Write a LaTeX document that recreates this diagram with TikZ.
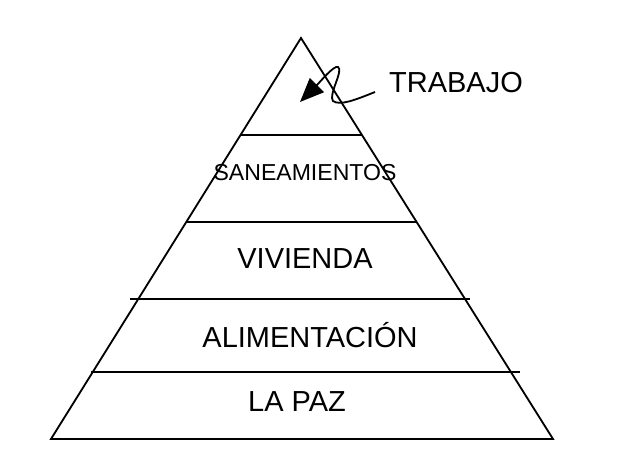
\documentclass[tikz,border=0pt]{standalone}
\usepackage{fontspec}
\setmainfont{Liberation Sans}
\usetikzlibrary{arrows.meta}
\tikzset{
    level/.style={black,line width=1.3pt},
    floor/.style={font=\fontsize{20.6}{24}\selectfont,inner sep=0pt},
    smallfloor/.style={font=\fontsize{16.4}{20}\selectfont,inner sep=0pt},
    squiggle/.style={black,line width=1.3pt,-{Triangle[length=17pt,width=14pt]}}
}
\begin{document}
\begin{tikzpicture}[x=0.025cm,y=0.025cm]
\useasboundingbox(0,0)rectangle(640,-474);
% piramide
\draw[level](301,-38)--(553,-439)--(51,-439)--cycle;
\draw[level](241,-135)--(362,-135);
\draw[level](186,-222)--(417,-222);
\draw[level](130,-299)--(470,-299);
\draw[level](91,-372)--(520,-372);
% niveles
\node[smallfloor](sane) at(305,-173){SANEAMIENTOS};
\node[floor](vivienda) at(305,-259){VIVIENDA};
\node[floor](alim) at(310,-335){ALIMENTACIÓN};
\node[floor](paz) at(297,-402){LA PAZ};
\node[floor](trabajo) at(456,-83){TRABAJO};
% flecha
\coordinate(tail) at(375,-92);
\coordinate(tip) at(300,-102);
\draw[squiggle](tail)..controls(355,-100)and(340,-106)..(333,-101)
    ..controls(328,-95)and(344,-70)..(338,-67)
    ..controls(334,-65)and(320,-82)..(tip);
\end{tikzpicture}
\end{document}
